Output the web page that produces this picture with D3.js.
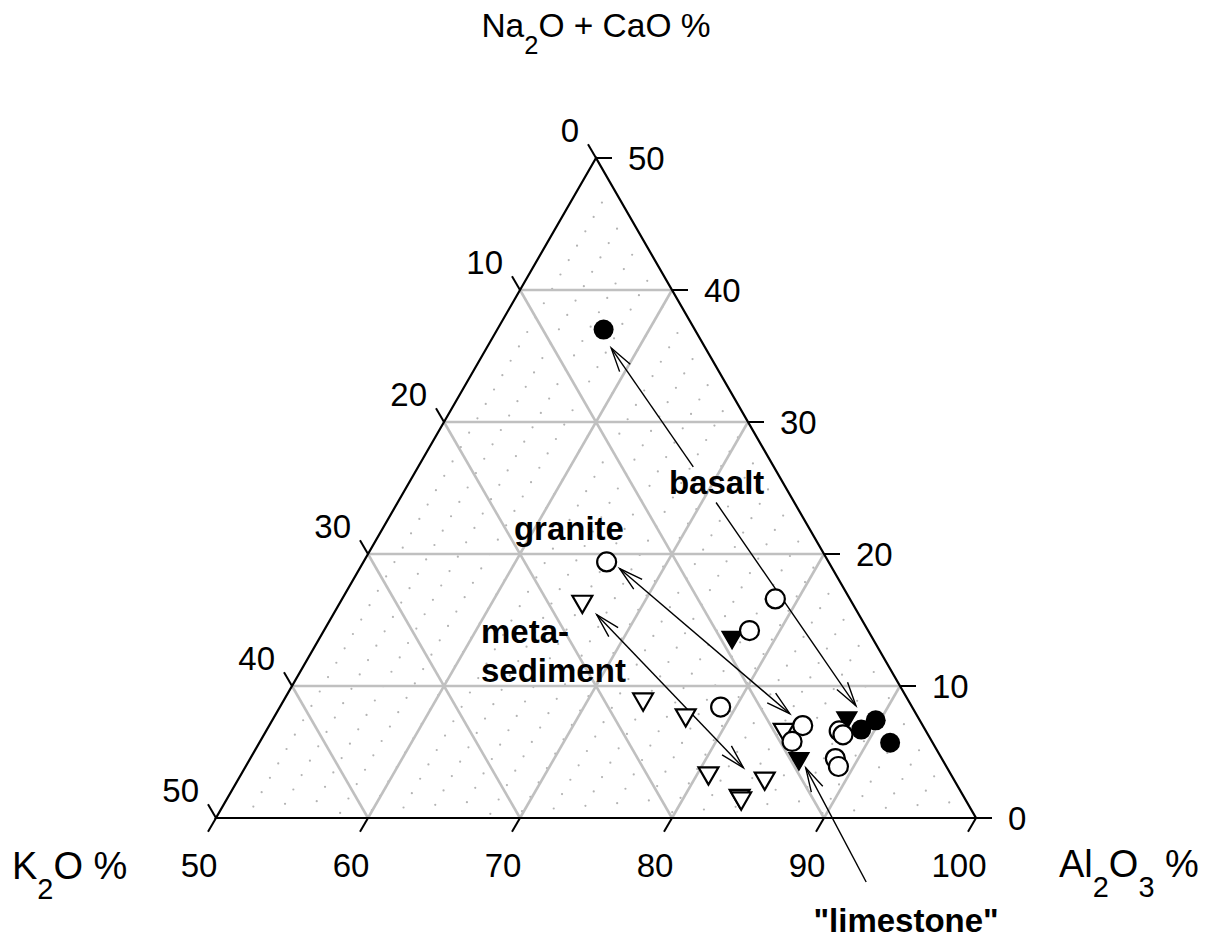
<!DOCTYPE html>
<html>
<head>
<meta charset="utf-8">
<script src="https://cdn.jsdelivr.net/npm/d3@7"></script>
<style>
  body { margin: 0; background: #fff; }
  text { font-family: "Liberation Sans", Arial, Helvetica, sans-serif; fill: #000; }
</style>
</head>
<body>
<svg id="chart" width="1219" height="945"></svg>
<script>
// Compositions as [Al2O3, K2O, Na2O+CaO] in percent (sum 100)
const openCircles = [
  [66.0, 14.6, 19.4],
  [78.5, 4.9, 16.6],
  [78.0, 7.8, 14.2],
  [79.0, 12.6, 8.4],
  [85.1, 7.9, 7.0],
  [85.0, 9.2, 5.8],
  [87.7, 5.7, 6.6],
  [88.1, 5.6, 6.3],
  [88.5, 7.0, 4.5],
  [89.0, 7.1, 3.9]
];
const filledCircles = [
  [57.0, 6.0, 37.0],
  [89.1, 4.2, 6.7],
  [89.7, 2.9, 7.4],
  [91.5, 2.8, 5.7]
];
const openTriangles = [
  [65.9, 17.7, 16.4],
  [73.6, 17.4, 9.0],
  [77.0, 15.2, 7.8],
  [80.7, 15.9, 3.4],
  [84.6, 12.4, 3.0],
  [83.6, 14.7, 1.7],
  [83.8, 14.7, 1.5],
  [84.0, 9.3, 6.7]
];
const filledTriangles = [
  [77.1, 9.2, 13.7],
  [86.1, 9.4, 4.5],
  [87.7, 4.7, 7.6]
];

// Arrows: [from, to, headAtFrom, headAtTo], endpoints as compositions
const arrows = [
  [[68.1, 5.3, 26.6], [58.2, 6.2, 35.6], false, true],   // basalt -> source
  [[70.95, 5.15, 23.9], [87.85, 3.65, 8.5], false, true], // basalt -> weathered
  [[67.1, 14.0, 18.9], [83.8, 8.3, 7.9], true, true],     // granite
  [[67.35, 17.25, 15.4], [82.8, 13.4, 3.8], true, true],  // meta-sediment
  [[95.2, 9.65, -4.85], [86.9, 9.3, 3.8], false, true]    // "limestone"
];

// Annotation labels: text, composition anchor, anchor mode
const labels = [
  { lines: ["basalt"], at: [70.66, 4.79, 24.55], anchor: "middle" },
  { lines: ["granite"], at: [59.07, 19.87, 21.06], anchor: "start" },
  { lines: ["meta-", "sediment"], at: [60.82, 25.95, 13.23], anchor: "start" },
  { lines: ["\"limestone\""], at: [99.7, 9.6, -8.6], anchor: "middle" }
];

const alTicks = [50, 60, 70, 80, 90, 100];
const kTicks = [0, 10, 20, 30, 40, 50];
const naTicks = [0, 10, 20, 30, 40, 50];
const gridSteps = [10, 20, 30, 40];

const svg = d3.select("#chart");

// Al2O3 along the base, Na2O+CaO vertically; K2O is the remainder
const xScale = d3.scaleLinear().domain([50, 100]).range([216, 976]);
const yScale = d3.scaleLinear().domain([0, 50]).range([818, 158]);
const proj = ([al, k, na]) => [xScale(al + na / 2), yScale(na)];

const vTop = proj([50, 0, 50]);
const vLeft = proj([50, 50, 0]);
const vRight = proj([100, 0, 0]);

// clip path for the triangle interior
svg.append("defs").append("clipPath").attr("id", "tri")
  .append("path")
  .attr("d", d3.line()([vTop, vLeft, vRight]) + "Z");

// stippled background texture
const dotG = svg.append("g").attr("clip-path", "url(#tri)");
const u = [-8.3, 14.38], v = [23.4, 11.7];
const anchor = proj([56.0, 35.1, 8.9]);
const dots = [];
for (let i = -80; i <= 80; i++) {
  for (let j = -60; j <= 60; j++) {
    const px = anchor[0] + i * u[0] + j * v[0];
    const py = anchor[1] + i * u[1] + j * v[1];
    const na = yScale.invert(py);
    const al = xScale.invert(px) - na / 2;
    const k = 100 - al - na;
    if (na > 0.3 && k > 0.3 && al > 50.3) dots.push([px, py]);
  }
}
dotG.selectAll("circle").data(dots).join("circle")
  .attr("cx", d => d[0]).attr("cy", d => d[1])
  .attr("r", 1.1).attr("fill", "#b3b3b3");

// grid
const gridG = svg.append("g").attr("stroke", "#c0c0c0").attr("stroke-width", 2.6).attr("fill", "none");
const gridSegs = [];
gridSteps.forEach(s => {
  const a = 50 + s;
  gridSegs.push([proj([a, 100 - a, 0]), proj([a, 0, 100 - a])]);   // constant Al2O3
  gridSegs.push([proj([100 - s, s, 0]), proj([50, s, 50 - s])]);   // constant K2O
  gridSegs.push([proj([50, 50 - s, s]), proj([100 - s, 0, s])]);   // constant Na2O+CaO
});
gridG.selectAll("line").data(gridSegs).join("line")
  .attr("x1", d => d[0][0]).attr("y1", d => d[0][1])
  .attr("x2", d => d[1][0]).attr("y2", d => d[1][1]);

// frame
svg.append("path")
  .attr("d", d3.line()([vTop, vLeft, vRight]) + "Z")
  .attr("fill", "none").attr("stroke", "#000").attr("stroke-width", 2.2)
  .attr("stroke-linejoin", "miter");

// ticks and tick labels
const tickLen = 16;
const tickG = svg.append("g").attr("stroke", "#000").attr("stroke-width", 2);
const c60 = Math.cos(Math.PI / 3), s60 = Math.sin(Math.PI / 3);
const fs = 33;

alTicks.forEach(a => {
  const p = proj([a, 100 - a, 0]);
  tickG.append("line").attr("x1", p[0]).attr("y1", p[1])
    .attr("x2", p[0] - tickLen * c60).attr("y2", p[1] + tickLen * s60);
  svg.append("text").attr("x", p[0] - 17).attr("y", p[1] + 59)
    .attr("text-anchor", "middle").attr("font-size", fs).text(a);
});
kTicks.forEach(k => {
  const p = proj([50, k, 50 - k]);
  tickG.append("line").attr("x1", p[0]).attr("y1", p[1])
    .attr("x2", p[0] - tickLen * c60).attr("y2", p[1] - tickLen * s60);
  svg.append("text").attr("x", p[0] - 17).attr("y", p[1] - 16)
    .attr("text-anchor", "end").attr("font-size", fs).text(k);
});
naTicks.forEach(n => {
  const p = proj([100 - n, 0, n]);
  tickG.append("line").attr("x1", p[0]).attr("y1", p[1])
    .attr("x2", p[0] + tickLen).attr("y2", p[1]);
  svg.append("text").attr("x", p[0] + 32).attr("y", p[1] + 12)
    .attr("text-anchor", "start").attr("font-size", fs).text(n);
});

// arrows with open heads
const arrowG = svg.append("g").attr("stroke", "#000").attr("stroke-width", 1.4).attr("fill", "none");
const headLen = 25, headAng = 15 * Math.PI / 180;
function head(tip, from) {
  const ang = Math.atan2(from[1] - tip[1], from[0] - tip[0]);
  const p1 = [tip[0] + headLen * Math.cos(ang + headAng), tip[1] + headLen * Math.sin(ang + headAng)];
  const p2 = [tip[0] + headLen * Math.cos(ang - headAng), tip[1] + headLen * Math.sin(ang - headAng)];
  return d3.line()([p1, tip, p2]);
}
arrows.forEach(([f, t, hf, ht]) => {
  const a = proj(f), b = proj(t);
  arrowG.append("path").attr("d", d3.line()([a, b]));
  if (ht) arrowG.append("path").attr("d", head(b, a));
  if (hf) arrowG.append("path").attr("d", head(a, b));
});

// samples
const tri = d3.symbol().type(d3.symbolTriangle).size(172)();
const ptG = svg.append("g");
ptG.selectAll("path.ot").data(openTriangles).join("path").attr("class", "ot")
  .attr("d", tri)
  .attr("transform", d => { const p = proj(d); return `translate(${p[0]},${p[1]}) rotate(180)`; })
  .attr("fill", "#fff").attr("stroke", "#000").attr("stroke-width", 2.2);
ptG.selectAll("path.ft").data(filledTriangles).join("path").attr("class", "ft")
  .attr("d", tri)
  .attr("transform", d => { const p = proj(d); return `translate(${p[0]},${p[1]}) rotate(180)`; })
  .attr("fill", "#000").attr("stroke", "#000").attr("stroke-width", 1.5);
ptG.selectAll("circle.oc").data(openCircles).join("circle").attr("class", "oc")
  .attr("cx", d => proj(d)[0]).attr("cy", d => proj(d)[1])
  .attr("r", 9.5).attr("fill", "#fff").attr("stroke", "#000").attr("stroke-width", 2.2);
ptG.selectAll("circle.fc").data(filledCircles).join("circle").attr("class", "fc")
  .attr("cx", d => proj(d)[0]).attr("cy", d => proj(d)[1])
  .attr("r", 10).attr("fill", "#000");

// annotation labels
labels.forEach(l => {
  const p = proj(l.at);
  l.lines.forEach((t, i) => {
    svg.append("text").attr("x", p[0]).attr("y", p[1] + i * 38.4)
      .attr("text-anchor", l.anchor).attr("font-size", 33).attr("font-weight", "bold")
      .text(t);
  });
});

// axis titles with subscripts
function title(x, y, size, anchorMode, parts) {
  const t = svg.append("text").attr("x", x).attr("y", y)
    .attr("font-size", size).attr("text-anchor", anchorMode)
    .attr("xml:space", "preserve");
  let shifted = false;
  parts.forEach(([s, sub]) => {
    const ts = t.append("tspan").text(s);
    if (sub && !shifted) { ts.attr("dy", size * 0.52).attr("font-size", size * 0.76); shifted = true; }
    else if (sub) { ts.attr("font-size", size * 0.76); }
    else if (shifted) { ts.attr("dy", -size * 0.52); shifted = false; }
  });
}
title(596, 37, 33.5, "middle", [["Na"], ["2", true], ["O + CaO %"]]);
title(12, 879, 38, "start", [["K"], ["2", true], ["O %"]]);
title(1059, 877, 38, "start", [["Al"], ["2", true], ["O"], ["3", true], [" %"]]);
</script>
</body>
</html>
